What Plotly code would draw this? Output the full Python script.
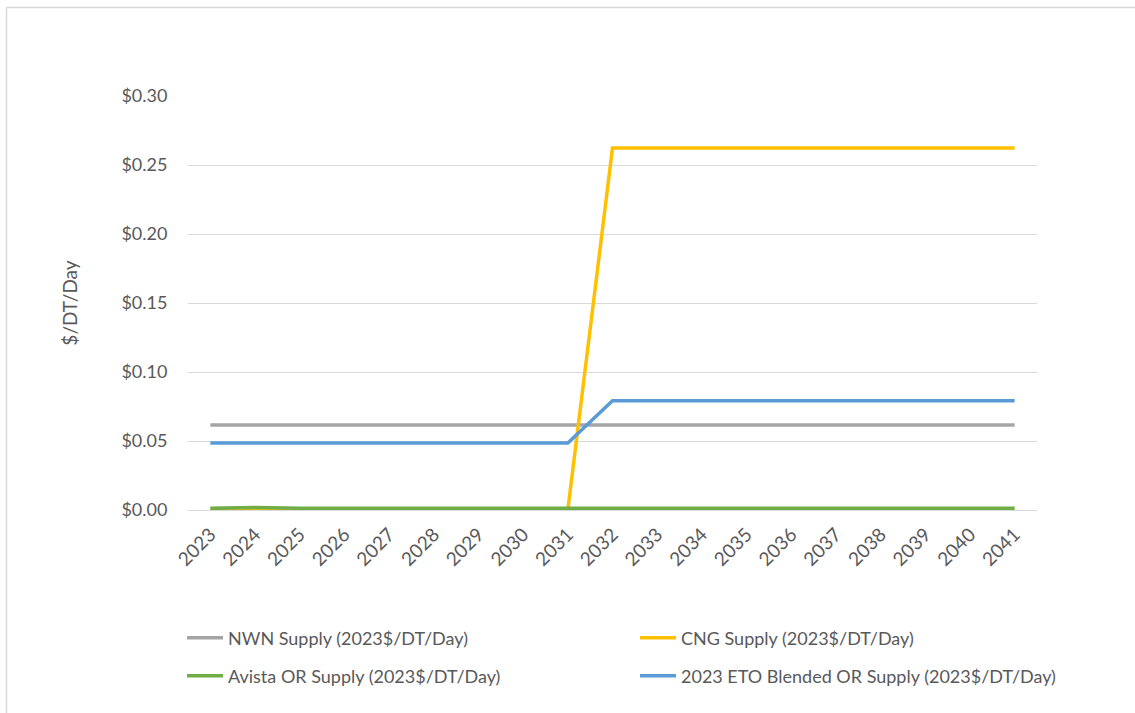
import plotly.graph_objects as go

# Supply cost by year, in 2023 dollars per dekatherm per day
years = ["2023", "2024", "2025", "2026", "2027", "2028", "2029", "2030", "2031", "2032",
         "2033", "2034", "2035", "2036", "2037", "2038", "2039", "2040", "2041"]

nwn_supply = [0.0616, 0.0616, 0.0616, 0.0616, 0.0616, 0.0616, 0.0616, 0.0616, 0.0616, 0.0616,
              0.0616, 0.0616, 0.0616, 0.0616, 0.0616, 0.0616, 0.0616, 0.0616, 0.0616]
cng_supply = [0.0, 0.0, 0.0, 0.0, 0.0, 0.0, 0.0, 0.0, 0.0, 0.2623,
              0.2623, 0.2623, 0.2623, 0.2623, 0.2623, 0.2623, 0.2623, 0.2623, 0.2623]
avista_supply = [0.0012, 0.0018, 0.0013, 0.0012, 0.0012, 0.0012, 0.0012, 0.0012, 0.0012, 0.0012,
                 0.0012, 0.0012, 0.0012, 0.0012, 0.0012, 0.0012, 0.0012, 0.0012, 0.0012]
eto_supply = [0.0486, 0.0486, 0.0486, 0.0486, 0.0486, 0.0486, 0.0486, 0.0486, 0.0486, 0.0792,
              0.0792, 0.0792, 0.0792, 0.0792, 0.0792, 0.0792, 0.0792, 0.0792, 0.0792]

series = [
    ("NWN Supply (2023$/DT/Day)", nwn_supply, "#A5A5A5", "legend"),
    ("CNG Supply (2023$/DT/Day)", cng_supply, "#FFC000", "legend"),
    ("Avista OR Supply (2023$/DT/Day)", avista_supply, "#70AD47", "legend2"),
    ("2023 ETO Blended OR Supply (2023$/DT/Day)", eto_supply, "#5B9BD5", "legend2"),
]

W, H = 1135, 713
L, R, T, B = 188, 98, 96, 203
plot_w, plot_h = W - L - R, H - T - B


def px_x(p):
    return (p - L) / plot_w


def px_y(p):
    return (H - B - p) / plot_h


FONT = "Lato, 'Open Sans', sans-serif"
TXT = "#595959"

fig = go.Figure()
for name, vals, color, leg in series:
    fig.add_trace(go.Scatter(
        x=years, y=vals, name=name, mode="lines",
        line=dict(color=color, width=3.5),
        legend=leg,
    ))

legend_common = dict(
    orientation="h", x=px_x(182), xanchor="left", yanchor="middle",
    entrywidth=402, entrywidthmode="pixels",
    font=dict(family=FONT, size=18, color=TXT),
    bgcolor="rgba(0,0,0,0)", itemwidth=36,
)

fig.update_layout(
    width=W, height=H,
    margin=dict(l=L, r=R, t=T, b=B, autoexpand=False),
    paper_bgcolor="white", plot_bgcolor="white",
    font=dict(family=FONT, size=18, color=TXT),
    legend=dict(y=px_y(638), **legend_common),
    legend2=dict(y=px_y(676), **legend_common),
    xaxis=dict(
        type="category", range=[-0.5, 18.5],
        tickangle=-45, showgrid=False, showline=False, zeroline=False,
        ticks="outside", ticklen=5, tickcolor="rgba(0,0,0,0)",
        tickfont=dict(family=FONT, size=19, color=TXT),
    ),
    yaxis=dict(
        range=[0, 0.30], dtick=0.05, tickformat="$.2f",
        showgrid=True, gridcolor="#D9D9D9", gridwidth=1.3,
        zeroline=True, zerolinecolor="#D9D9D9", zerolinewidth=1.3,
        showline=False,
        ticks="outside", ticklen=16, tickcolor="rgba(0,0,0,0)",
        tickfont=dict(family=FONT, size=18, color=TXT),
        title=dict(text="$/DT/Day", standoff=38,
                   font=dict(family=FONT, size=19, color=TXT)),
    ),
    shapes=[
        dict(type="rect", xref="paper", yref="paper",
             x0=px_x(6.5), x1=px_x(W + 20), y0=px_y(H + 20), y1=px_y(7.5),
             line=dict(color="#D9D9D9", width=1.5), fillcolor="rgba(0,0,0,0)",
             layer="below"),
    ],
)

fig.write_html("out.html")
